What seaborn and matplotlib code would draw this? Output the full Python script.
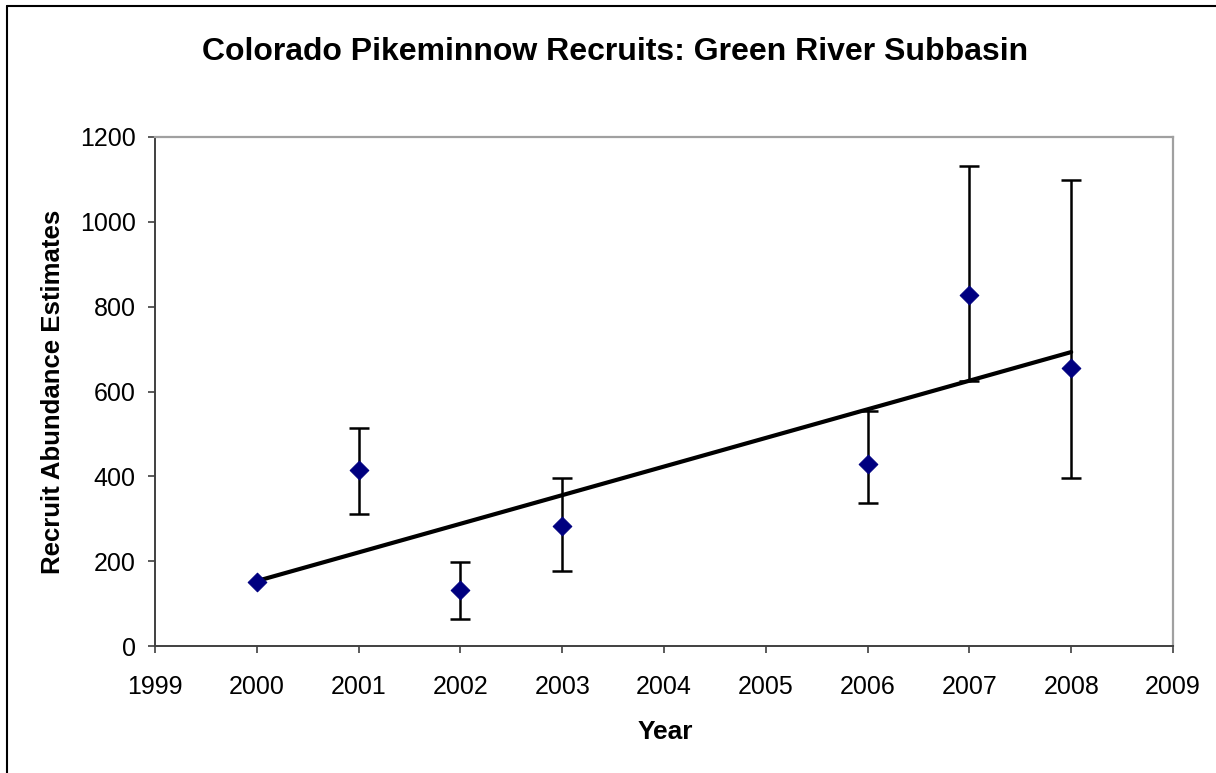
import numpy as np
import pandas as pd
import matplotlib
matplotlib.use("Agg")
import matplotlib.pyplot as plt
import seaborn as sns
from matplotlib.lines import Line2D

# Datos
years = [2000, 2001, 2002, 2003, 2006, 2007, 2008]
estimates = [152, 415, 133, 283, 428, 828, 655]
lower = [152, 312, 63, 176, 336, 624, 397]
upper = [152, 515, 199, 396, 554, 1131, 1098]

df = pd.DataFrame({"Year": years, "Estimate": estimates,
                   "Lower": lower, "Upper": upper})

sns.set_theme(style="white")
plt.rcParams["font.family"] = ["Liberation Sans", "DejaVu Sans"]
plt.rcParams["text.color"] = "black"

fig = plt.figure(figsize=(12.16, 7.73), dpi=100)
ax = fig.add_axes([155 / 1216, 1 - 646 / 773, (1173 - 155) / 1216, (646 - 137) / 773])

# Barras de error (solo donde hay intervalo)
has_err = df["Upper"] > df["Lower"]
sub = df[has_err]
ax.errorbar(sub["Year"], sub["Estimate"],
            yerr=[sub["Estimate"] - sub["Lower"], sub["Upper"] - sub["Estimate"]],
            fmt="none", ecolor="black", elinewidth=1.8, capsize=7, capthick=1.8, zorder=2)

# Línea de tendencia lineal
sns.regplot(data=df, x="Year", y="Estimate", scatter=False, ci=None, ax=ax,
            line_kws={"color": "black", "lw": 3, "zorder": 3})

# Puntos
sns.scatterplot(data=df, x="Year", y="Estimate", marker="D", s=90, color="#000080",
                edgecolor="#000080", ax=ax, zorder=4)

ax.set_xlim(1999, 2009)
ax.set_ylim(0, 1200)
ax.set_xticks(range(1999, 2010))
ax.set_yticks(range(0, 1201, 200))
ax.set_xlabel("")
ax.set_ylabel("")
ax.tick_params(axis="both", which="major", direction="out", length=5, width=1.2,
               color="#404040", labelsize=18, labelcolor="black", bottom=True, left=True)
ax.tick_params(axis="y", pad=9)
ax.tick_params(axis="x", pad=16)

for side in ["left", "bottom"]:
    ax.spines[side].set_color("#404040")
    ax.spines[side].set_linewidth(1.4)
for side in ["top", "right"]:
    ax.spines[side].set_color("#a0a0a0")
    ax.spines[side].set_linewidth(1.6)

fig.text(0.506, 1 - 52 / 773, "Colorado Pikeminnow Recruits: Green River Subbasin",
         ha="center", va="center", fontsize=23, fontweight="bold", color="black")
fig.text(53 / 1216, 1 - 392 / 773, "Recruit Abundance Estimates", rotation=90,
         ha="center", va="center", fontsize=18.5, fontweight="bold", color="black")
fig.text(665 / 1216, 1 - 732 / 773, "Year", ha="center", va="center",
         fontsize=19, fontweight="bold", color="black")

# Marco exterior del gráfico
fig.add_artist(Line2D([7 / 1216, 7 / 1216], [0, 1 - 6 / 773], color="black", lw=1.5))
fig.add_artist(Line2D([7 / 1216, 1], [1 - 6 / 773, 1 - 6 / 773], color="black", lw=1.5))

fig.savefig("out.png", dpi=100)
